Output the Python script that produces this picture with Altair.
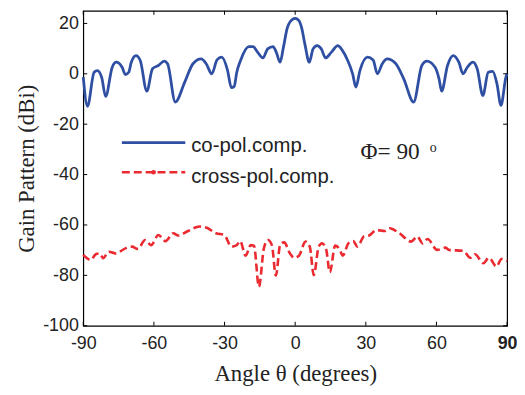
import altair as alt
import pandas as pd

# co-polarisation component (blue solid)
co_theta = [-90, -88.2, -85.4, -84, -82.2, -80.5, -77.7, -76, -73.5, -72.1,
            -70.7, -69.6, -67.6, -65.8, -63, -60.6, -58.1, -55.6, -54.2, -50.9,
            -46.9, -43.4, -39.9, -37.8, -35.4, -33.2, -31.2, -28.7, -27.1, -25.9,
            -24.8, -23.2, -19.7, -17.9, -15.9, -13.7, -11.7, -9.4, -8.0, -6.4,
            -5.0, -3.3, -1.0, 0, 1.5, 2.7, 4.1, 6.0, 7.6, 9.3,
            11.1, 12.9, 15.3, 18.1, 19.9, 22.3, 24.4, 25.8, 27.5, 30.7,
            33.1, 34.9, 37.0, 39.1, 42.6, 46.1, 50.3, 53.8, 55.9, 59.4,
            61.1, 62.2, 64.7, 67.1, 69.5, 71.3, 73.1, 75.5, 77.3, 79.7,
            82.0, 83.9, 85.7, 87.4, 89.5, 90]
co_gain = [-1.3, -12.9, 0.6, 1.3, -1.3, -9, 2.6, 4.6, 2.6, -0.3,
           0.6, 4.6, 7.2, 5.3, -6.9, 2.0, 3.3, 5, 4, -11.2,
           -3.3, 4, 5.9, 4, 0, 5.5, 6.6, 1.3, -5.5, -5,
           0.6, 5.3, 10.8, 10.8, 8.5, 6.3, 9.9, 10.8, 8.5, 4.6,
           10.5, 18.4, 21.7, 22.0, 21.2, 18.4, 11.9, 4.6, 9.9, 11.2,
           9.9, 6.3, 8.5, 11.2, 9.5, 5.3, 0, -5.3, 1.3, 6.6,
           5.5, 0, 4, 5.9, 4.2, -2, -11.2, 3.3, 5, 2.6,
           -2, -6.9, 3.3, 7.2, 4.6, 0, 2.6, 4.6, 2, -8.6,
           0.6, 1.0, -4, -12.5, -1.3, 0]

# cross-polarisation component (red dashed)
cx_theta = [-90, -86.8, -84.7, -83, -81.6, -79.1, -76.3, -72.1, -69.3, -66.8,
            -63.7, -61.2, -58.1, -55.1, -51.8, -49.7, -45.5, -40.6, -37.8, -33.6,
            -30.1, -27.1, -24.8, -23.4, -21.0, -18.9, -17.5, -15.4, -13.3, -11.6,
            -9.9, -8.2, -6.4, -4.7, -2.2, -0.5, 1.6, 4.4, 6.2, 7.9,
            10, 11.4, 13.2, 14.7, 17, 18.8, 20.2, 22.6, 24.7, 26.4,
            29.2, 31.4, 34.5, 38, 40.1, 44.3, 49.2, 51.9, 54.1, 56.2,
            60.3, 63.8, 65.3, 71.5, 74.3, 76.4, 79.9, 82.3, 85.5, 87.6, 90]
cx_gain = [-71.9, -73.9, -71.6, -71.3, -73.2, -70.6, -71.3, -69.3, -68.6, -69.5,
           -66.0, -68.0, -64.0, -66.4, -63.3, -64.2, -62.4, -60.6, -61.0, -63.3,
           -64.0, -68.6, -68.0, -66.4, -72.2, -68.0, -68.2, -84.5, -69.3, -66.0,
           -68.0, -80.1, -68.0, -66.9, -71.3, -73.0, -72.2, -66.6, -68.6, -79.9,
           -68.6, -67.3, -69.9, -78.8, -68.2, -69.5, -72.2, -67.3, -66.4, -68.6,
           -64.6, -64.2, -62.0, -62.4, -61.3, -63.3, -66.6, -64.6, -67.3, -65.6,
           -69.9, -69.0, -69.9, -70.3, -73.0, -71.6, -75.2, -73.0, -76.5, -73.5, -74.3]

x_ticks = [-90, -60, -30, 0, 30, 60, 90]
y_ticks = [-100, -80, -60, -40, -20, 0, 20]
legend_labels = ["co-pol.comp.", "cross-pol.comp."]
phi_label = "Φ= 90"
phi_sup = "o"

BLUE = "#2f4fa3"
RED = "#ea2a30"
W, H = 428, 318
SANS = "Liberation Sans"
SERIF = "Liberation Serif"

xs = alt.Scale(domain=[-90, 90], nice=False, zero=False)
ys = alt.Scale(domain=[-100, 25], nice=False, zero=False)

co_df = pd.DataFrame({"theta": co_theta, "gain": co_gain})
cx_df = pd.DataFrame({"theta": cx_theta, "gain": cx_gain})

co_line = alt.Chart(co_df).mark_line(color=BLUE, strokeWidth=2.8, interpolate="monotone").encode(
    x=alt.X("theta:Q", scale=xs,
            axis=alt.Axis(values=x_ticks, title="Angle θ (degrees)", ticks=False, domain=False,
                          grid=False, labelFont=SANS, labelFontSize=18, labelColor="#222",
                          labelExpr="'' + datum.value",
                          labelFontWeight=alt.expr("datum.value == 90 ? 'bold' : 'normal'"),
                          labelPadding=9, titleFont=SERIF, titleFontSize=23,
                          titleFontWeight="normal", titleColor="#222", titlePadding=10,
                          labelFlush=False)),
    y=alt.Y("gain:Q", scale=ys,
            axis=alt.Axis(values=y_ticks, title="Gain Pattern (dBi)", ticks=False, domain=False,
                          grid=False, labelFont=SANS, labelFontSize=18, labelColor="#222",
                          labelExpr="'' + datum.value",
                          labelPadding=5, titleFont=SERIF, titleFontSize=23,
                          titleFontWeight="normal", titleColor="#222", titlePadding=4)),
)

cx_line = alt.Chart(cx_df).mark_line(color=RED, strokeWidth=2.6, strokeDash=[8, 4],
                                     interpolate="monotone").encode(
    x=alt.X("theta:Q", scale=xs),
    y=alt.Y("gain:Q", scale=ys),
)

xt_df = pd.DataFrame({"v": x_ticks})
yt_df = pd.DataFrame({"v": y_ticks})
TL = 4
tick_layers = [
    alt.Chart(xt_df).mark_rule(color="black", strokeWidth=1).encode(
        x=alt.X("v:Q", scale=xs), y=alt.value(H), y2=alt.value(H - TL)),
    alt.Chart(xt_df).mark_rule(color="black", strokeWidth=1).encode(
        x=alt.X("v:Q", scale=xs), y=alt.value(0), y2=alt.value(TL)),
    alt.Chart(yt_df).mark_rule(color="black", strokeWidth=1).encode(
        y=alt.Y("v:Q", scale=ys), x=alt.value(0), x2=alt.value(TL)),
    alt.Chart(yt_df).mark_rule(color="black", strokeWidth=1).encode(
        y=alt.Y("v:Q", scale=ys), x=alt.value(W), x2=alt.value(W - TL)),
]

one = alt.Data(values=[{"a": 1}])
leg = [
    alt.Chart(one).mark_rule(color=BLUE, strokeWidth=2.8).encode(
        x=alt.value(39), x2=alt.value(103), y=alt.value(133)),
    alt.Chart(one).mark_rule(color=RED, strokeWidth=2.6, strokeDash=[8, 4]).encode(
        x=alt.value(39), x2=alt.value(103), y=alt.value(163)),
    alt.Chart(one).mark_point(color=RED, filled=True, size=22, opacity=1).encode(
        x=alt.value(71), y=alt.value(163)),
    alt.Chart(one).mark_text(text=legend_labels[0], font=SANS, fontSize=20.5, align="left",
                             baseline="middle", color="#222").encode(
        x=alt.value(109), y=alt.value(137)),
    alt.Chart(one).mark_text(text=legend_labels[1], font=SANS, fontSize=20.5, align="left",
                             baseline="middle", color="#222").encode(
        x=alt.value(109), y=alt.value(168)),
    alt.Chart(one).mark_text(text=phi_label, font=SERIF, fontSize=23.5, align="left",
                             baseline="alphabetic", color="#222").encode(
        x=alt.value(280), y=alt.value(150)),
    alt.Chart(one).mark_text(text=phi_sup, font=SERIF, fontSize=14, align="left",
                             baseline="alphabetic", color="#222").encode(
        x=alt.value(350), y=alt.value(143)),
]

chart = alt.layer(co_line, cx_line, *tick_layers, *leg).properties(
    width=W, height=H,
    autosize=alt.AutoSizeParams(type="none"),
    padding={"left": 76, "top": 1, "right": 10, "bottom": 59},
    background="white",
).configure_view(stroke="black", strokeWidth=1.2)

chart.save("out.html", embed_options={"renderer": "svg", "actions": False})
